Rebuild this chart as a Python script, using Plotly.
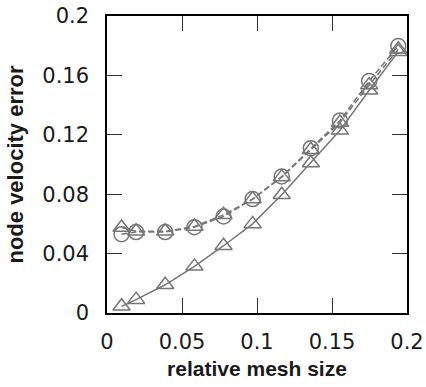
import plotly.graph_objects as go

mesh_size = [0.0097, 0.0194, 0.0388, 0.0583, 0.0777, 0.0971, 0.1165, 0.1359, 0.1553, 0.1748, 0.1942]
err_dashed_circle = [0.0531, 0.0545, 0.0545, 0.0578, 0.0650, 0.0767, 0.0919, 0.1110, 0.1296, 0.1563, 0.1798]
err_dashed_triangle = [0.0576, 0.0550, 0.0550, 0.0583, 0.0661, 0.0767, 0.0915, 0.1099, 0.1283, 0.1536, 0.1776]
err_solid_triangle = [0.0045, 0.0090, 0.0190, 0.0314, 0.0453, 0.0600, 0.0796, 0.1010, 0.1230, 0.1500, 0.1760]

x_ticks = [0, 0.05, 0.1, 0.15, 0.2]
x_ticktext = ["0", "0.05", "0.1", "0.15", "0.2"]
y_ticks = [0, 0.04, 0.08, 0.12, 0.16, 0.2]
y_ticktext = ["0", "0.04", "0.08", "0.12", "0.16", "0.2"]

GRAY = "#767676"
TICK_FONT = "DejaVu Sans, Liberation Sans, Arial, sans-serif"
TITLE_FONT = "Liberation Sans, Arial, sans-serif"

fig = go.Figure()
fig.add_trace(go.Scatter(
    x=mesh_size, y=err_solid_triangle, mode="lines+markers",
    line=dict(color=GRAY, width=1.5),
    marker=dict(symbol="triangle-up-open", size=15, color=GRAY, line=dict(width=1.5)),
    showlegend=False))
fig.add_trace(go.Scatter(
    x=mesh_size, y=err_dashed_triangle, mode="lines+markers",
    line=dict(color=GRAY, width=1.5, dash="6px,3px"),
    marker=dict(symbol="triangle-up-open", size=15, color=GRAY, line=dict(width=1.5)),
    showlegend=False))
fig.add_trace(go.Scatter(
    x=mesh_size, y=err_dashed_circle, mode="lines+markers",
    line=dict(color=GRAY, width=1.5, dash="6px,3px"),
    marker=dict(symbol="circle-open", size=15, color=GRAY, line=dict(width=1.5)),
    showlegend=False))

axis_common = dict(
    showgrid=False, zeroline=False, showline=True, linecolor="black", linewidth=1.5,
    mirror="ticks", ticks="inside", ticklen=15, tickwidth=1, tickcolor="#333",
    automargin=False,
    tickfont=dict(family=TICK_FONT, size=21, color="#1a1a1a"),
)

fig.update_layout(
    width=426, height=387,
    margin=dict(l=107, r=19, t=16, b=74),
    paper_bgcolor="white", plot_bgcolor="white",
    font=dict(family=TITLE_FONT, color="#1a1a1a"),
    xaxis=dict(axis_common, range=[0, 0.2], tickvals=x_ticks, ticktext=x_ticktext,
               ticklabelstandoff=9,
               title=dict(text="<b>relative mesh size</b>", font=dict(size=21), standoff=8)),
    yaxis=dict(axis_common, range=[0, 0.2], tickvals=y_ticks, ticktext=y_ticktext,
               ticklabelstandoff=12,
               title=dict(text="<b>node velocity error</b>", font=dict(size=22), standoff=13)),
)

fig.write_html("out.html", config={"displayModeBar": False},
               post_script="document.body.style.margin='0';document.body.style.padding='0';")
